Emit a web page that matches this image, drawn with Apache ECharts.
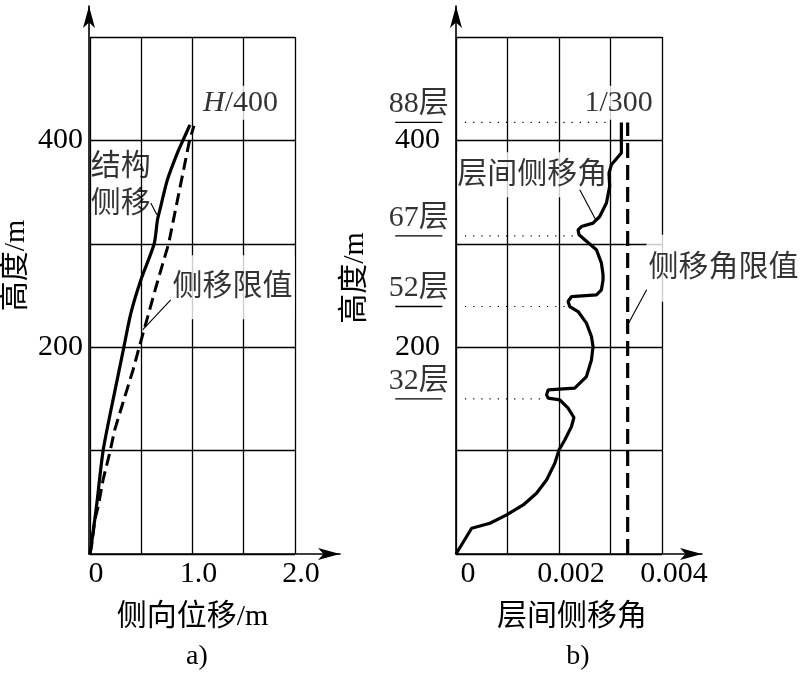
<!DOCTYPE html>
<html>
<head>
<meta charset="utf-8">
<script src="https://cdn.jsdelivr.net/npm/echarts@6/dist/echarts.min.js"></script>
<style>
html,body{margin:0;padding:0;background:#fff;}
#c{width:801px;height:676px;}
</style>
</head>
<body>
<div id="c"></div>
<script>
// ---------- data ----------
// panel a) lateral displacement (m) vs height (m)
const structHeights = [0, 10, 46, 100, 139, 178, 200, 233, 265, 300, 323, 336, 362, 388, 400, 415];
const structDisp    = [0, 0.015, 0.063, 0.128, 0.204, 0.285, 0.33, 0.399, 0.496, 0.626, 0.658, 0.69, 0.755, 0.853, 0.907, 0.975];
const limitHeights  = [0, 10, 33, 46, 72, 98, 120, 136, 152, 178, 200, 265, 300, 400, 414];
const limitDisp     = [0, 0.018, 0.047, 0.08, 0.128, 0.193, 0.241, 0.29, 0.339, 0.42, 0.48, 0.663, 0.767, 0.971, 1.014];

// panel b) inter-storey drift angle vs height (m)
const driftHeights = [0, 24.9, 29.7, 37.8, 47.4, 58.7, 71.6, 87.8, 100.7, 110.3, 123.2, 132, 141, 149, 150.7, 153.9, 158.7, 160.4,
  171.6, 187.7, 200.6, 210.3, 223.3, 234.5, 239.3, 244.2, 249, 250.6, 255.5, 265, 270, 281.3, 294.2, 303.9, 308.7, 313.5,
  316.7, 320, 326.4, 339.4, 355.5, 368.4, 376.5, 387.8, 417.4];
const driftAngle = [0, 0.000304, 0.000659, 0.000983, 0.001305, 0.001563, 0.001758, 0.001919, 0.002, 0.002112, 0.002242, 0.00229, 0.002176, 0.002016, 0.001789, 0.001758, 0.001789, 0.002306,
  0.002533, 0.00263, 0.002661, 0.00263, 0.002533, 0.00237, 0.002209, 0.002176, 0.002242, 0.002727, 0.002824, 0.002855, 0.002855, 0.002824, 0.002727, 0.0025, 0.00239, 0.00237,
  0.002436, 0.002661, 0.002791, 0.002921, 0.002984, 0.002971, 0.003017, 0.003211, 0.003211];
const driftLimit = 1 / 300;
const driftLimitTop = 417.4;

// floor markers in panel b)
const floorNames   = ['88层', '67层', '52层', '32层'];
const floorHeights = [417.4, 307.7, 239.3, 150.0];
const floorGuideEnd = [0.00304, 0.0024, 0.00213, 0.00171];

// tick labels
const leftXTicks  = ['0', '1.0', '2.0'];
const rightXTicks = ['0', '0.002', '0.004'];
const yTicksShown = [200, 400];

// ---------- chart ----------
const FONT = "'Liberation Serif', 'Times New Roman', 'Noto Sans CJK SC', serif";
const TXT = {color: '#000', fontFamily: FONT, fontSize: 30};
const grid = (l, t, w, h) => ({left: l, top: t, width: w, height: h});

const splitStyle = {show: true, lineStyle: {color: '#000', width: 1.3, type: 'solid'}};
const arrowLine = {show: true, symbol: ['none', 'arrow'], symbolSize: [9, 22], lineStyle: {color: '#000', width: 1.6}};
const hiddenAxis = (gi, max) => ({ gridIndex: gi, type: 'value', min: 0, max: max, show: false });

function pairs(xs, ys) { return xs.map((x, i) => [x, ys[i]]); }

const xAxes = [
  { gridIndex: 0, type: 'value', min: 0, max: 2, interval: 0.5,
    axisLine: {show: false}, axisTick: {show: false}, splitLine: splitStyle,
    axisLabel: Object.assign({}, TXT, {margin: 5, padding: [0, 0, 0, 12],
      formatter: v => (Math.abs(v - Math.round(v)) < 1e-9 ? leftXTicks[Math.round(v)] : '')}),
    name: '侧向位移/m', nameLocation: 'middle', nameGap: 48, nameTextStyle: Object.assign({}, TXT) },
  { gridIndex: 1, type: 'value', min: 0, max: 1, axisLine: arrowLine, axisTick: {show: false},
    axisLabel: {show: false}, splitLine: {show: false} },
  { gridIndex: 2, type: 'value', min: 0, max: 0.004, interval: 0.001,
    axisLine: {show: false}, axisTick: {show: false}, splitLine: splitStyle,
    axisLabel: Object.assign({}, TXT, {margin: 5, padding: [0, 0, 0, 24],
      formatter: v => { const k = Math.round(v / 0.002); return Math.abs(v - k * 0.002) < 1e-9 ? rightXTicks[k] : ''; }}),
    name: '层间侧移角', nameLocation: 'middle', nameGap: 48, nameTextStyle: Object.assign({}, TXT, {padding: [0, 0, 0, 26]}) },
  { gridIndex: 3, type: 'value', min: 0, max: 1, axisLine: arrowLine, axisTick: {show: false},
    axisLabel: {show: false}, splitLine: {show: false} },
  hiddenAxis(4, 1)
];

const yAxes = [
  { gridIndex: 0, type: 'value', min: 0, max: 500, interval: 100,
    axisLine: {show: false}, axisTick: {show: false}, splitLine: splitStyle,
    axisLabel: Object.assign({}, TXT, {margin: 7, formatter: v => (yTicksShown.indexOf(v) >= 0 ? String(v) : '')}),
    name: '高度/m', nameLocation: 'middle', nameRotate: 90, nameGap: 59,
    nameTextStyle: Object.assign({}, TXT, {padding: [0, 0, 0, 60]}) },
  { gridIndex: 1, type: 'value', min: 0, max: 1, axisLine: arrowLine, axisTick: {show: false},
    axisLabel: {show: false}, splitLine: {show: false} },
  { gridIndex: 2, type: 'value', min: 0, max: 500, interval: 100,
    axisLine: {show: false}, axisTick: {show: false}, splitLine: splitStyle,
    axisLabel: Object.assign({}, TXT, {margin: 16, formatter: v => (yTicksShown.indexOf(v) >= 0 ? String(v) : '')}),
    name: '高度/m', nameLocation: 'middle', nameRotate: 90, nameGap: 86,
    nameTextStyle: Object.assign({}, TXT, {padding: [0, 0, 0, 35]}) },
  { gridIndex: 3, type: 'value', min: 0, max: 1, axisLine: arrowLine, axisTick: {show: false},
    axisLabel: {show: false}, splitLine: {show: false} },
  hiddenAxis(4, 500)
];

function textMark(axisIdx, pos, text, extra) {
  return {
    type: 'scatter', xAxisIndex: axisIdx, yAxisIndex: axisIdx, clip: false, silent: true, z: 2,
    symbolSize: 0, data: [pos],
    label: Object.assign({show: true, position: 'inside', formatter: text}, TXT, extra || {})
  };
}
function leader(axisIdx, a, b, extra) {
  return Object.assign({
    type: 'line', xAxisIndex: axisIdx, yAxisIndex: axisIdx, clip: false, silent: true, z: 4,
    symbol: 'none', data: [a, b], lineStyle: {color: '#000', width: 1.1}
  }, extra || {});
}

const series = [
  // panel a
  { type: 'line', xAxisIndex: 0, yAxisIndex: 0, z: 5, symbol: 'none', clip: false, smooth: 0.25,
    data: pairs(structDisp, structHeights), lineStyle: {color: '#000', width: 3.2} },
  { type: 'line', xAxisIndex: 0, yAxisIndex: 0, z: 5, symbol: 'none', clip: false,
    data: pairs(limitDisp, limitHeights), lineStyle: {color: '#000', width: 3, type: [12, 6]} },
  textMark(0, [1.469, 436.5], '{i|H}/400', {backgroundColor: '#fff', padding: [2, 2, 2, 2],
    rich: {i: Object.assign({}, TXT, {fontStyle: 'italic'})}}),
  textMark(0, [0.30, 356.6], '结构\n侧移', {lineHeight: 37, align: 'center'}),
  textMark(0, [1.391, 257.9], '侧移限值', {backgroundColor: '#fff', padding: [17, 2, 17, 2]}),
  leader(0, [0.593, 339.4], [0.652, 328]),
  leader(0, [0.788, 245.8], [0.513, 216.8]),
  // panel b
  { type: 'line', xAxisIndex: 2, yAxisIndex: 2, z: 5, symbol: 'none', clip: false,
    data: pairs(driftAngle, driftHeights), lineStyle: {color: '#000', width: 3.2} },
  { type: 'line', xAxisIndex: 2, yAxisIndex: 2, z: 5, symbol: 'none', clip: false,
    data: [[driftLimit, 0], [driftLimit, driftLimitTop]], lineStyle: {color: '#000', width: 3.2, type: [15, 7]} },
  textMark(2, [0.003159, 436.5], '1/300', {backgroundColor: '#fff', padding: [2, 2, 2, 2]}),
  textMark(2, [0.001483, 366.8], '层间侧移角', {backgroundColor: '#fff', padding: [5, 0, 10, 0]}),
  textMark(2, [0.005194, 276.3], '侧移角限值', {backgroundColor: '#fff', padding: [14, 2, 23, 2]}),
  leader(2, [0.002403, 352.3], [0.002713, 323.2]),
  leader(2, [0.003702, 255.5], [0.003314, 219.7])
];

// floor labels (in the gutter left of panel b), underlines and dotted guides
floorNames.forEach((name, i) => {
  const h = floorHeights[i];
  series.push(leader(4, [0.2, h], [0.82, h], {z: 3, lineStyle: {color: '#000', width: 1.4}}));
  series.push(leader(2, [0.000174, h], [floorGuideEnd[i], h], {z: 3, lineStyle: {color: '#000', width: 1.1, type: [1.2, 7]}}));
  series.push({
    type: 'scatter', xAxisIndex: 4, yAxisIndex: 4, clip: false, silent: true, symbolSize: 0,
    data: [[0.51, h]],
    label: Object.assign({show: true, position: 'top', distance: 3, formatter: name}, TXT)
  });
});

const option = {
  animation: false,
  backgroundColor: '#fff',
  title: [
    {text: 'a)', left: 197, top: 643, textAlign: 'center', padding: 0, textStyle: Object.assign({}, TXT, {fontWeight: 'normal', fontSize: 28})},
    {text: 'b)', left: 578, top: 643, textAlign: 'center', padding: 0, textStyle: Object.assign({}, TXT, {fontWeight: 'normal', fontSize: 28})}
  ],
  grid: [grid(89, 37, 206, 517), grid(89, 6, 251, 548), grid(456, 37, 206, 517), grid(456, 6, 246, 548), grid(380, 37, 76, 517)],
  xAxis: xAxes,
  yAxis: yAxes,
  series: series
};

const chart = echarts.init(document.getElementById('c'), null, {renderer: 'canvas'});
chart.setOption(option);
</script>
</body>
</html>
